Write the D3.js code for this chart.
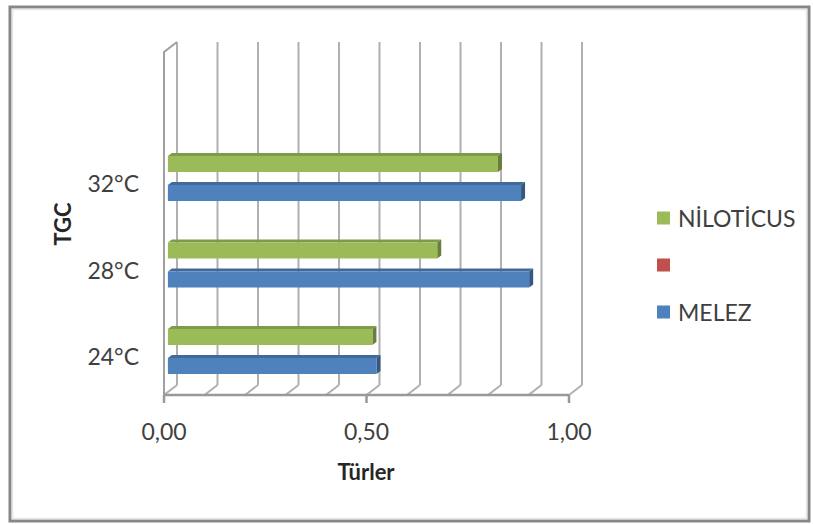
<!DOCTYPE html>
<html>
<head>
<meta charset="utf-8">
<script src="https://cdn.jsdelivr.net/npm/d3@7"></script>
<style>
  html, body { margin: 0; padding: 0; background: #fff; }
  svg { display: block; }
  text { font-family: Lato, "Open Sans", sans-serif; }
</style>
</head>
<body>
<svg id="chart" width="813" height="524"></svg>
<script>
// Temperature groups (top to bottom) and the series shown in each group
const categories = ["32°C", "28°C", "24°C"];
const seriesNames = ["NİLOTİCUS", "", "MELEZ"];
const seriesColors = ["#9BBB59", "#C0504D", "#4F81BD"];
const niloticus = [0.815, 0.665, 0.505];
const blank = [null, null, null];
const melez = [0.872, 0.892, 0.515];
const tickValues = [0, 0.5, 1];
const tickLabels = ["0,00", "0,50", "1,00"];
const gridValues = d3.range(0, 1.0001, 0.1);

const seriesValues = [niloticus, blank, melez];

const svg = d3.select("#chart");

// Outer chart frame
svg.append("rect").attr("x", 10).attr("y", 7).attr("width", 799).attr("height", 514)
  .attr("fill", "#fff").attr("stroke", "#878787").attr("stroke-width", 3);
svg.append("rect").attr("x", 12.5).attr("y", 9.5).attr("width", 794).attr("height", 509)
  .attr("fill", "none").attr("stroke", "#e6e6e6").attr("stroke-width", 1.5);

// 3D box geometry: front plane and back wall offset
const depth = { dx: 13, dy: -10 };
const xFront = d3.scaleLinear().domain([0, 1]).range([164, 569]);
const xBack = v => xFront(v) + depth.dx;
const floorY = 395;
const wallTopFront = 52;

// Bars sit a little behind the front plane
const barDepth = 0.3;
const xBar = d3.scaleLinear().domain([0, 1])
  .range([xFront(0) + depth.dx * barDepth, xFront(1) + depth.dx * barDepth]);

const y = d3.scaleBand().domain(categories).range([133.75, 393.25]);
const sub = d3.scalePoint().domain(seriesNames).range([-14.5, 14.5]);
const barH = 16;

const grid = svg.append("g").attr("fill", "none").attr("stroke", "#b0b0b0").attr("stroke-width", 2);

// Back wall gridlines
grid.selectAll("line.back").data(gridValues).join("line")
  .attr("x1", d => xBack(d)).attr("x2", d => xBack(d))
  .attr("y1", wallTopFront + depth.dy).attr("y2", floorY + depth.dy);

// Floor gridlines running from front to back
grid.selectAll("line.floor").data(gridValues).join("line")
  .attr("x1", d => xFront(d)).attr("y1", floorY)
  .attr("x2", d => xBack(d)).attr("y2", floorY + depth.dy);

// Left side wall
grid.append("path")
  .attr("d", `M${xFront(0)},${floorY} L${xFront(0)},${wallTopFront} L${xBack(0)},${wallTopFront + depth.dy}`)
  .attr("stroke", "#a0a0a0");

// Front axis line and ticks
const axisG = svg.append("g").attr("stroke", "#999").attr("stroke-width", 2.5).attr("fill", "none");
axisG.append("line").attr("x1", xFront(0)).attr("x2", xFront(1)).attr("y1", floorY).attr("y2", floorY);
axisG.selectAll("line.tick").data(tickValues).join("line")
  .attr("x1", d => xFront(d)).attr("x2", d => xFront(d))
  .attr("y1", floorY).attr("y2", floorY + 8);

// Bars: front face, top face and end face
const barG = svg.append("g");
const bd = { dx: 4, dy: -3 };
seriesNames.forEach((name, si) => {
  const col = d3.color(seriesColors[si]);
  seriesValues[si].forEach((v, ci) => {
    if (v == null) return;
    const cy = y(categories[ci]) + y.bandwidth() / 2 + sub(name);
    const y0 = cy - barH / 2 + 1.5;
    const x0 = xBar(0), x1 = xBar(v);
    const g = barG.append("g");
    g.append("path")
      .attr("d", `M${x0},${y0} L${x0 + bd.dx},${y0 + bd.dy} L${x1 + bd.dx},${y0 + bd.dy} L${x1},${y0} Z`)
      .attr("fill", col.darker(0.55));
    g.append("path")
      .attr("d", `M${x1},${y0} L${x1 + bd.dx},${y0 + bd.dy} L${x1 + bd.dx},${y0 + barH + bd.dy} L${x1},${y0 + barH} Z`)
      .attr("fill", col.darker(1.1));
    g.append("rect").attr("x", x0).attr("y", y0).attr("width", x1 - x0).attr("height", barH)
      .attr("fill", col);
  });
});

// Tick labels
svg.append("g").selectAll("text").data(tickValues).join("text")
  .attr("x", d => xFront(d)).attr("y", 440)
  .attr("text-anchor", "middle").attr("font-size", 23).attr("fill", "#404040")
  .text((d, i) => tickLabels[i]);

// Category labels
svg.append("g").selectAll("text").data(categories).join("text")
  .attr("x", 139).attr("y", d => y(d) + y.bandwidth() / 2 + 15)
  .attr("text-anchor", "end").attr("font-size", 23).attr("fill", "#404040")
  .text(d => d);

// Axis titles
svg.append("text").attr("x", 366).attr("y", 480).attr("text-anchor", "middle")
  .attr("font-size", 22).attr("font-weight", "bold").attr("fill", "#262626").text("Türler");
svg.append("text").attr("transform", "translate(71,224) rotate(-90)").attr("text-anchor", "middle")
  .attr("font-size", 22).attr("font-weight", "bold").attr("fill", "#262626").text("TGC");

// Legend
const legendY = [218, 265, 312];
const legend = svg.append("g").selectAll("g").data(seriesNames).join("g")
  .attr("transform", (d, i) => `translate(657,${legendY[i]})`);
legend.append("rect").attr("x", 0).attr("y", -6.5).attr("width", 13).attr("height", 13)
  .attr("fill", (d, i) => seriesColors[i]);
legend.append("text").attr("x", 21).attr("y", 8.5).attr("font-size", 23).attr("fill", "#404040")
  .text(d => d);
</script>
</body>
</html>
